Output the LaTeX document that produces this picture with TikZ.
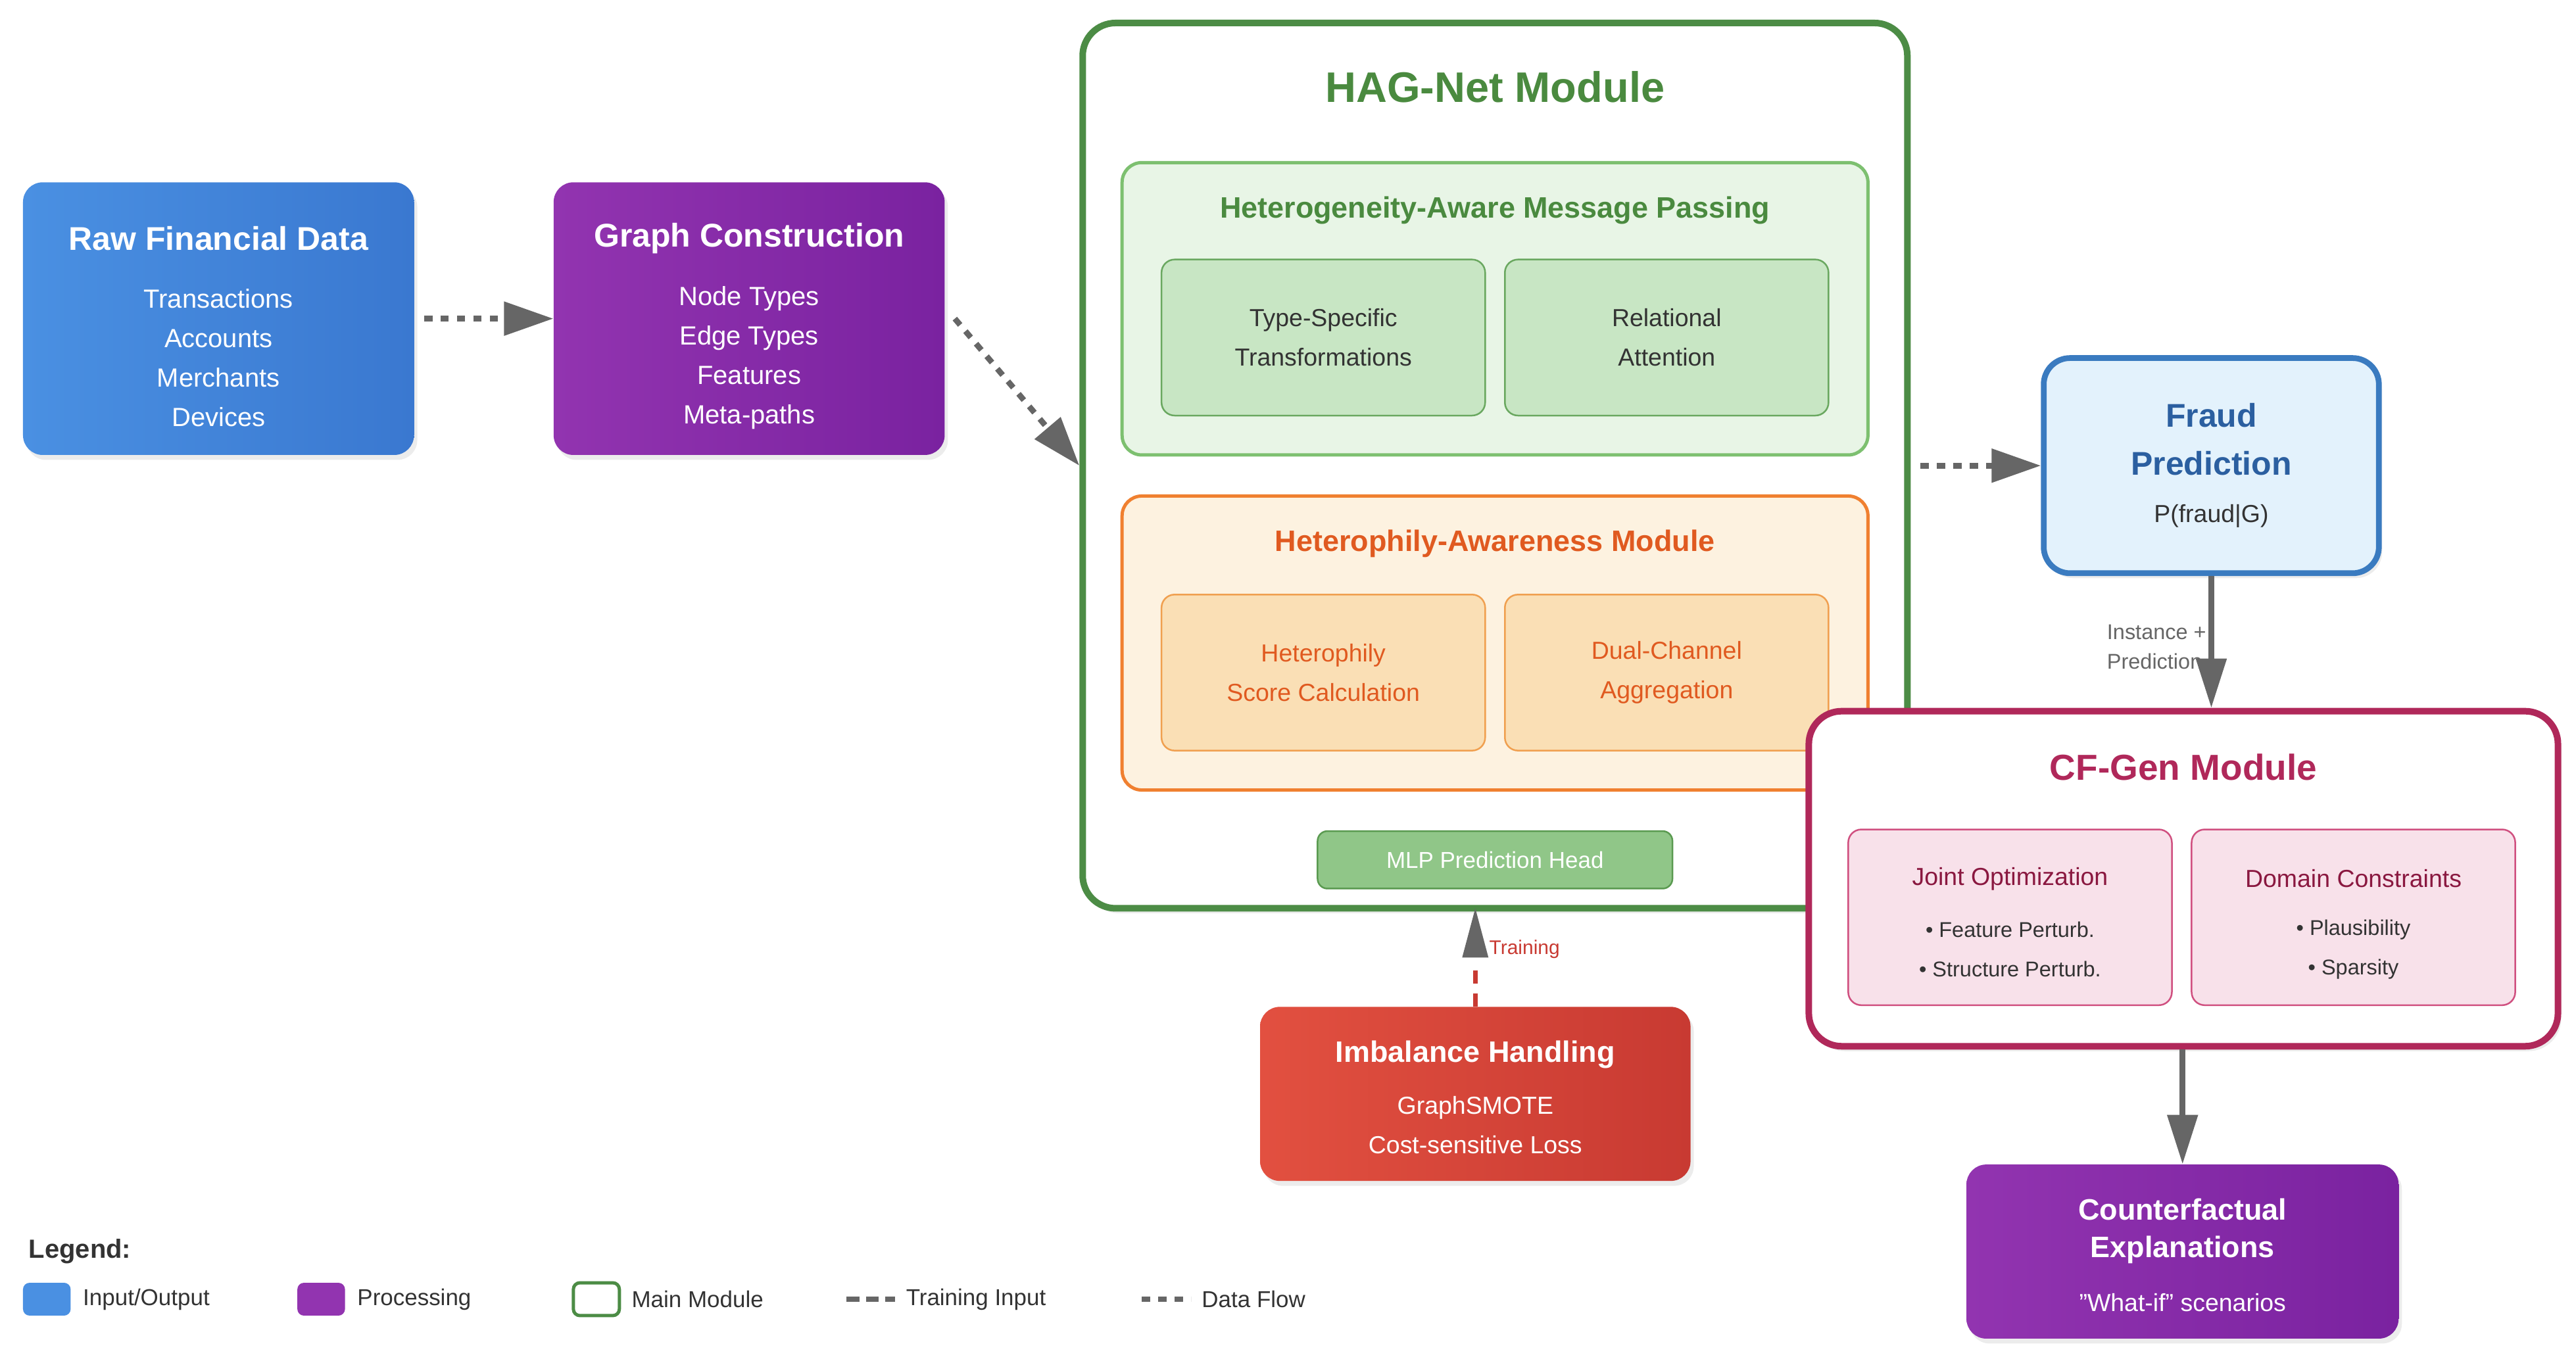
\documentclass[tikz,border=0pt]{standalone}
\usepackage{fontspec}
\setmainfont{Liberation Sans}
\usetikzlibrary{arrows.meta,shadows,positioning}
\definecolor{blueA}{HTML}{4A90E2}\definecolor{blueB}{HTML}{3A78D0}
\definecolor{purA}{HTML}{9234B0}\definecolor{purB}{HTML}{7A22A0}
\definecolor{redA}{HTML}{E25040}\definecolor{redB}{HTML}{C83A32}
\definecolor{hagG}{HTML}{4C8C45}\definecolor{hagT}{HTML}{4A8A3F}
\definecolor{lgF}{HTML}{E8F5E6}\definecolor{lgB}{HTML}{7DC070}
\definecolor{igF}{HTML}{C8E6C4}\definecolor{igB}{HTML}{6AA860}
\definecolor{orF}{HTML}{FDF2E0}\definecolor{orB}{HTML}{F08030}\definecolor{orT}{HTML}{E05A20}
\definecolor{ioF}{HTML}{FADFB5}\definecolor{ioB}{HTML}{F0A050}
\definecolor{mlpF}{HTML}{90C688}\definecolor{mlpB}{HTML}{5A9A50}
\definecolor{frF}{HTML}{E3F2FC}\definecolor{frB}{HTML}{3A7BC0}\definecolor{frT}{HTML}{2B5FA0}
\definecolor{cfB}{HTML}{B0285A}\definecolor{cfF}{HTML}{F8E1EA}\definecolor{cfIB}{HTML}{D05080}\definecolor{cfT}{HTML}{8A1840}
\definecolor{arr}{HTML}{666666}\definecolor{txt}{HTML}{333333}
\tikzset{
 x=1pt,y=-1pt,
 fs/.style 2 args={font=\fontsize{#1}{#2}\selectfont},
 fsb/.style 2 args={font=\fontsize{#1}{#2}\selectfont\bfseries},
 box/.style={rounded corners=12pt,align=center,inner sep=0pt,drop shadow={shadow xshift=2pt,shadow yshift=-3pt,opacity=0.15}},
 solidbox/.style={box,text=white,draw=none},
 inner/.style={rounded corners=8pt,align=center,inner sep=0pt,line width=1pt,minimum width=197pt},
 flow/.style={draw=arr,line width=3.5pt,dash pattern=on 5pt off 5pt,-{Triangle[length=30pt,width=20pt,fill=arr]}},
 solidarr/.style={draw=arr,line width=3.5pt,-{Triangle[length=30pt,width=18pt,fill=arr]}},
}
\begin{document}
\begin{tikzpicture}
\useasboundingbox (0,0) rectangle (1568,828.6);
% Raw data
\node[solidbox,left color=blueA,right color=blueB,minimum width=238pt,minimum height=166pt] (raw) at (133,194) {};
\node[fsb={20}{24},text=white] at (133,145) {Raw Financial Data};
\node[fs={16}{24},text=white,align=center] at (133,218) {Transactions\\Accounts\\Merchants\\Devices};
% Graph construction
\node[solidbox,left color=purA,right color=purB,minimum width=238pt,minimum height=166pt] (gc) at (456,194) {};
\node[fsb={20}{24},text=white] at (456,145) {Graph Construction};
\node[fs={16}{24},text=white,align=center] at (456,218) {Node Types\\Edge Types\\Features\\Meta-paths};
% HAG-Net
\node[box,draw=hagG,line width=4pt,fill=white,rounded corners=20pt,minimum width=502pt,minimum height=539pt] (hag) at (910,283.5) {};
\node[fsb={26}{30},text=hagT] (hagt) at (910,53) {HAG-Net Module};
\node[draw=lgB,fill=lgF,line width=2pt,rounded corners=12pt,minimum width=454pt,minimum height=178pt] (het) at (910,188) {};
\node[fsb={18}{22},text=hagT] at (910,128) {Heterogeneity-Aware Message Passing};
\node[inner,draw=igB,fill=igF,minimum height=95pt,fs={15}{24},text=txt] (tst) at (805.5,205.5) {Type-Specific\\Transformations};
\node[inner,draw=igB,fill=igF,minimum height=95pt,fs={15}{24},text=txt] (ra) at (1014.5,205.5) {Relational\\Attention};
\node[draw=orB,fill=orF,line width=2pt,rounded corners=12pt,minimum width=454pt,minimum height=179pt] (hph) at (910,391.5) {};
\node[fsb={18}{22},text=orT] at (910,331) {Heterophily-Awareness Module};
\node[inner,draw=ioB,fill=ioF,minimum height=95pt,fs={15}{24},text=orT] (hsc) at (805.5,409.5) {Heterophily\\Score Calculation};
\node[inner,draw=ioB,fill=ioF,minimum height=95pt,fs={15}{24},text=orT] (dca) at (1014.5,409.5) {Dual-Channel\\Aggregation};
\node[draw=mlpB,fill=mlpF,line width=1pt,rounded corners=6pt,minimum width=216pt,minimum height=35pt,fs={14}{17},text=white] (mlp) at (910,523.5) {MLP Prediction Head};
% Fraud prediction
\node[box,draw=frB,fill=frF,line width=3.5pt,rounded corners=16pt,minimum width=204pt,minimum height=131pt] (fr) at (1346,283.5) {};
\node[fsb={20}{29},text=frT,align=center] at (1346,267.5) {Fraud\\Prediction};
\node[fs={15}{18},text=txt] at (1346,314) {P(fraud|G)};
% CF-Gen
\node[box,draw=cfB,fill=white,line width=4pt,rounded corners=20pt,minimum width=456pt,minimum height=204pt] (cf) at (1329,535) {};
\node[fsb={22}{26},text=cfB] at (1329,467) {CF-Gen Module};
\node[inner,draw=cfIB,fill=cfF,minimum height=107pt] (jo) at (1223.5,558.5) {};
\node[fs={15}{18},text=cfT] at (1223.5,535) {Joint Optimization};
\node[fs={13}{24},text=txt,align=center] at (1223.5,578) {• Feature Perturb.\\• Structure Perturb.};
\node[inner,draw=cfIB,fill=cfF,minimum height=107pt] (dc) at (1432.5,558.5) {};
\node[fs={15}{18},text=cfT] at (1432.5,535) {Domain Constraints};
\node[fs={13}{24},text=txt,align=center] at (1432.5,578) {• Plausibility\\• Sparsity};
% Counterfactual
\node[solidbox,left color=purA,right color=purB,minimum width=263pt,minimum height=106pt] (ce) at (1328.5,762) {};
\node[fsb={18}{23},text=white,align=center] at (1328.5,749.5) {Counterfactual\\Explanations};
\node[fs={15}{18},text=white] at (1328.5,793) {"What-if" scenarios};
% Imbalance
\node[solidbox,left color=redA,right color=redB,minimum width=262pt,minimum height=106pt] (ih) at (898,666) {};
\node[fsb={18}{22},text=white] at (898,642) {Imbalance Handling};
\node[fs={15}{24},text=white,align=center] at (898,685) {GraphSMOTE\\Cost-sensitive Loss};
% connectors
\draw[flow] ([xshift=6pt]raw.east) -- (gc.west);
\draw[flow] ([xshift=6pt]gc.east) -- (hag.west);
\coordinate (hagr) at (hag.east |- fr.west);
\draw[flow] ([xshift=6pt]hagr) -- (fr.west);
\node[fs={13}{18},text=arr,anchor=north west,align=left] at (1279,377) {Instance +\\Prediction};
\draw[solidarr] (fr.south) -- (fr.south |- cf.north);
\draw[solidarr] (cf.south -| ce.north) -- (ce.north);
\coordinate (tr) at (898,553);
\draw[draw=redB,line width=3pt,dash pattern=on 8pt off 6pt] (ih.north) -- (898,585);
\fill[arr] (tr) -- (890,583) -- (906,583) -- cycle;
\node[fs={12}{14},text=redB,anchor=west] at (903,578) {Training};
% legend
\node[fsb={16}{19},text=txt,anchor=west] at (14,762) {Legend:};
\fill[blueA,rounded corners=4pt] (14,781) rectangle (43,801);
\node[fs={14}{17},text=txt,anchor=west] at (47,791) {Input/Output};
\fill[purA,rounded corners=4pt] (181,781) rectangle (210,801);
\node[fs={14}{17},text=txt,anchor=west] at (214,791) {Processing};
\draw[hagG,line width=2pt,rounded corners=4pt] (349,781) rectangle (377,801);
\node[fs={14}{17},text=txt,anchor=west] at (381,791) {Main Module};
\draw[arr,line width=3pt,dash pattern=on 8pt off 4pt] (515,791) -- (545,791);
\node[fs={14}{17},text=txt,anchor=west] at (548,791) {Training Input};
\draw[arr,line width=3pt,dash pattern=on 5pt off 5pt] (695,791) -- (725,791);
\node[fs={14}{17},text=txt,anchor=west] at (728,791) {Data Flow};
\end{tikzpicture}
\end{document}
